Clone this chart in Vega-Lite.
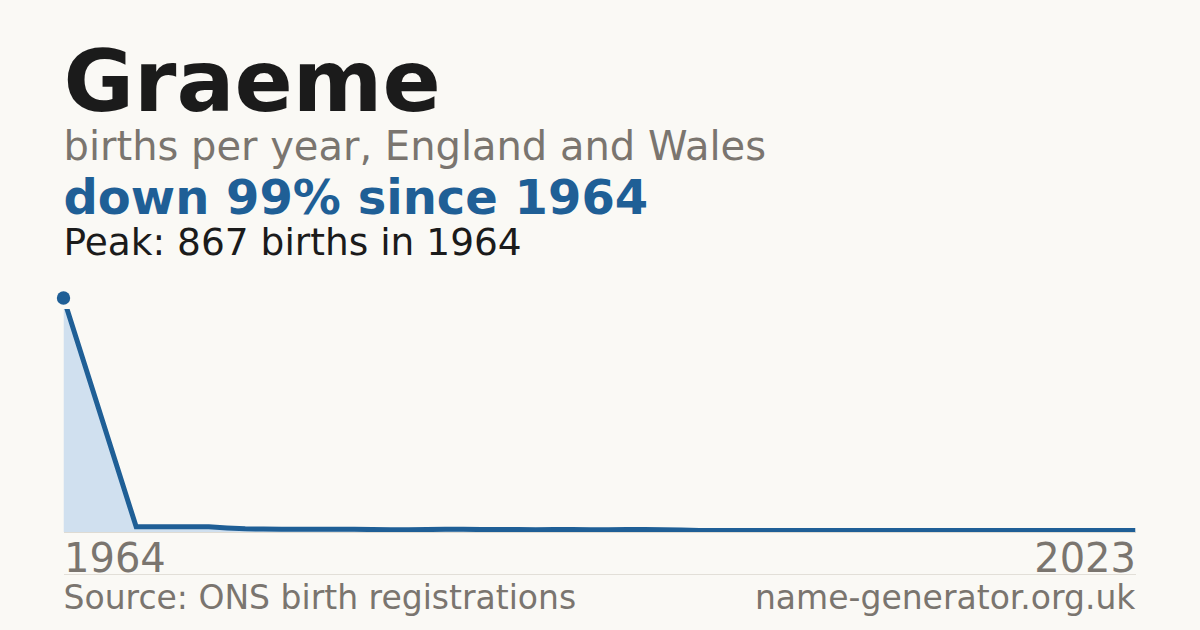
{
  "$schema": "https://vega.github.io/schema/vega-lite/v6.json",
  "background": "#faf9f5",
  "padding": {"left": 56.5, "right": 64, "top": 41, "bottom": 16},
  "config": {
    "view": {"stroke": null},
    "font": "DejaVu Sans",
    "concat": {"spacing": 7}
  },
  "title": {
    "text": "Graeme",
    "subtitle": "births per year, England and Wales",
    "anchor": "start",
    "frame": "group",
    "font": "DejaVu Sans",
    "fontSize": 86,
    "fontWeight": "bold",
    "color": "#1b1b1b",
    "subtitleFont": "DejaVu Sans",
    "subtitleFontSize": 40,
    "subtitleColor": "#7a756f",
    "subtitlePadding": -1,
    "offset": 7
  },
  "vconcat": [
    {
      "width": 1072,
      "height": 223,
      "title": {
        "text": "down 99% since 1964",
        "subtitle": "Peak: 867 births in 1964",
        "anchor": "start",
        "frame": "group",
        "font": "DejaVu Sans",
        "fontSize": 48,
        "fontWeight": "bold",
        "color": "#1f5f96",
        "subtitleFont": "DejaVu Sans",
        "subtitleFontSize": 37.5,
        "subtitleColor": "#1b1b1b",
        "subtitlePadding": 1,
        "offset": 29
      },
      "data": {
        "values": [
          {"year": 1964, "births": 867},
          {"year": 1968, "births": 19},
          {"year": 1969, "births": 19},
          {"year": 1970, "births": 19},
          {"year": 1971, "births": 19},
          {"year": 1972, "births": 19},
          {"year": 1973, "births": 15},
          {"year": 1974, "births": 12},
          {"year": 1975, "births": 11},
          {"year": 1976, "births": 10},
          {"year": 1977, "births": 10},
          {"year": 1978, "births": 10},
          {"year": 1979, "births": 10},
          {"year": 1980, "births": 10},
          {"year": 1981, "births": 9},
          {"year": 1982, "births": 8},
          {"year": 1983, "births": 8},
          {"year": 1984, "births": 9},
          {"year": 1985, "births": 10},
          {"year": 1986, "births": 10},
          {"year": 1987, "births": 9},
          {"year": 1988, "births": 9},
          {"year": 1989, "births": 9},
          {"year": 1990, "births": 8},
          {"year": 1991, "births": 9},
          {"year": 1992, "births": 9},
          {"year": 1993, "births": 8},
          {"year": 1994, "births": 8},
          {"year": 1995, "births": 9},
          {"year": 1996, "births": 9},
          {"year": 1997, "births": 8},
          {"year": 1998, "births": 7},
          {"year": 1999, "births": 6},
          {"year": 2000, "births": 6},
          {"year": 2001, "births": 6},
          {"year": 2002, "births": 6},
          {"year": 2003, "births": 6},
          {"year": 2004, "births": 6},
          {"year": 2005, "births": 6},
          {"year": 2006, "births": 6},
          {"year": 2007, "births": 6},
          {"year": 2008, "births": 6},
          {"year": 2009, "births": 6},
          {"year": 2010, "births": 6},
          {"year": 2011, "births": 6},
          {"year": 2012, "births": 6},
          {"year": 2013, "births": 6},
          {"year": 2014, "births": 6},
          {"year": 2015, "births": 6},
          {"year": 2016, "births": 6},
          {"year": 2017, "births": 6},
          {"year": 2018, "births": 6},
          {"year": 2019, "births": 6},
          {"year": 2020, "births": 6},
          {"year": 2021, "births": 6},
          {"year": 2022, "births": 6},
          {"year": 2023, "births": 6}
        ]
      },
      "encoding": {
        "x": {
          "field": "year",
          "type": "quantitative",
          "scale": {"domain": [1964, 2023], "nice": false, "zero": false},
          "axis": {
            "title": null,
            "labels": false,
            "ticks": false,
            "grid": false,
            "domain": true,
            "domainColor": "#dedbd3",
            "domainWidth": 1
          }
        },
        "y": {
          "field": "births",
          "type": "quantitative",
          "scale": {"domain": [0, 826], "nice": false, "zero": true},
          "axis": null
        }
      },
      "layer": [
        {"mark": {"type": "area", "color": "#d0e0ef", "opacity": 1, "clip": true}},
        {"mark": {"type": "line", "color": "#1f5f96", "strokeWidth": 5, "clip": true}},
        {
          "transform": [{"filter": "datum.births == 867"}],
          "mark": {"type": "point", "shape": "circle", "filled": true, "size": 180, "color": "#1f5f96", "opacity": 1, "clip": false}
        }
      ]
    },
    {
      "width": 1072,
      "height": 18,
      "data": {
        "values": [
          {"year": 1964, "label": "Source: ONS birth registrations"},
          {"year": 2023, "label": "name-generator.org.uk"}
        ]
      },
      "encoding": {
        "x": {
          "field": "year",
          "type": "quantitative",
          "scale": {"domain": [1964, 2023], "nice": false, "zero": false},
          "axis": {
            "orient": "top",
            "title": null,
            "values": [1964, 2023],
            "format": "d",
            "labelFlush": true,
            "ticks": false,
            "grid": false,
            "domain": true,
            "domainColor": "#e2dfd8",
            "domainWidth": 1,
            "labelFont": "DejaVu Sans",
            "labelFontSize": 40,
            "labelColor": "#7a756f",
            "labelBaseline": "alphabetic",
            "labelPadding": 3
          }
        },
        "text": {"field": "label", "type": "nominal"}
      },
      "layer": [
        {
          "transform": [{"filter": "datum.year == 1964"}],
          "mark": {"type": "text", "align": "left", "baseline": "top", "font": "DejaVu Sans", "fontSize": 33, "color": "#7a756f"}
        },
        {
          "transform": [{"filter": "datum.year == 2023"}],
          "mark": {"type": "text", "align": "right", "baseline": "top", "font": "DejaVu Sans", "fontSize": 33, "color": "#7a756f"}
        }
      ]
    }
  ]
}
